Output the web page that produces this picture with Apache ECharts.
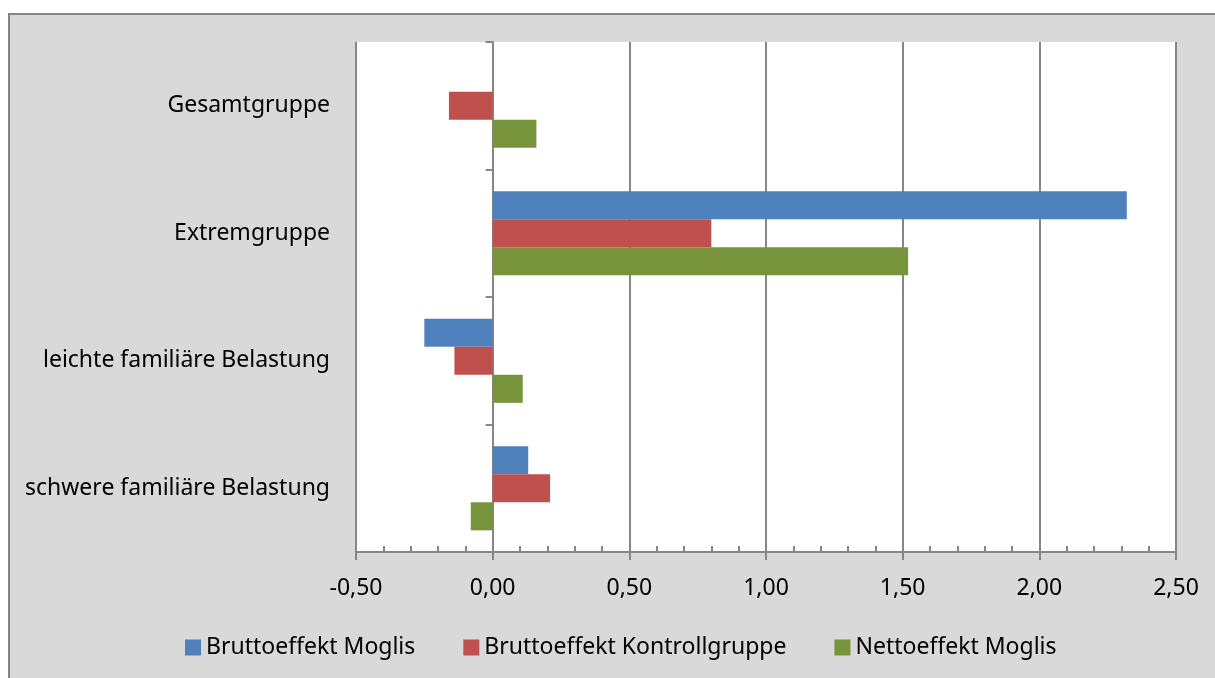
<!DOCTYPE html>
<html>
<head>
<meta charset="utf-8">
<script src="https://cdn.jsdelivr.net/npm/echarts@6/dist/echarts.min.js"></script>
<style>
html,body{margin:0;padding:0;background:#fff;}
#chart{width:1215px;height:678px;}
</style>
</head>
<body>
<div id="chart"></div>
<script>
const categories = ['Gesamtgruppe', 'Extremgruppe', 'leichte familiäre Belastung', 'schwere familiäre Belastung'];
const seriesNames = ['Bruttoeffekt Moglis', 'Bruttoeffekt Kontrollgruppe', 'Nettoeffekt Moglis'];
const bruttoMoglis = [0, 2.32, -0.25, 0.13];
const bruttoKontroll = [-0.16, 0.80, -0.14, 0.21];
const nettoMoglis = [0.16, 1.52, 0.11, -0.08];
const xMin = -0.5, xMax = 2.5, xStep = 0.5, xMinorStep = 0.1;

const colors = ['#4f81bd', '#c0504d', '#77933c'];
const font = '"Noto Sans", "Open Sans", sans-serif';
const chart = echarts.init(document.getElementById('chart'));
const fmt = v => v.toFixed(2).replace('.', ',');

chart.setOption({
  animation: false,
  textStyle: {fontFamily: font},
  graphic: [{
    type: 'rect', z: -10, silent: true,
    shape: {x: 9, y: 14, width: 1300, height: 800},
    style: {fill: '#d9d9d9', stroke: '#868686', lineWidth: 2}
  }],
  grid: {left: 356, top: 42, right: 39, bottom: 126, show: true, backgroundColor: '#ffffff', borderWidth: 0, containLabel: false},
  legend: {
    data: seriesNames, left: 180, top: 631, itemWidth: 16, itemHeight: 16, itemGap: 48,
    icon: 'rect', textStyle: {fontSize: 23, color: '#000', fontFamily: font}
  },
  xAxis: [{
    type: 'value', min: xMin, max: xMax, interval: xStep, position: 'bottom',
    axisLine: {show: true, lineStyle: {color: '#868686', width: 2}},
    axisTick: {show: true, length: 8, lineStyle: {color: '#868686', width: 2}},
    axisLabel: {formatter: fmt, fontSize: 23, color: '#000', margin: 25, fontFamily: font},
    splitLine: {show: true, lineStyle: {color: '#868686', width: 2}}
  }, {
    type: 'value', min: xMin, max: xMax, interval: xMinorStep, position: 'bottom',
    axisLine: {show: false},
    axisTick: {show: true, inside: true, length: 6, lineStyle: {color: '#868686', width: 2}},
    axisLabel: {show: false},
    splitLine: {show: false}
  }],
  yAxis: [{
    type: 'category', data: categories, inverse: true, position: 'left',
    axisLine: {show: false, onZero: false},
    axisTick: {show: false},
    axisLabel: {fontSize: 23, color: '#000', margin: 26, fontFamily: font, padding: [4, 0, 0, 0]}
  }, {
    type: 'category', data: categories, inverse: true, position: 'left',
    axisLine: {show: true, onZero: true, onZeroAxisIndex: 0, lineStyle: {color: '#868686', width: 2}},
    axisTick: {show: true, length: 7, lineStyle: {color: '#868686', width: 2}},
    axisLabel: {show: false}
  }],
  series: [
    {name: seriesNames[0], type: 'bar', yAxisIndex: 0, xAxisIndex: 0, data: bruttoMoglis, itemStyle: {color: colors[0]}, barGap: '0%', barCategoryGap: '34%'},
    {name: seriesNames[1], type: 'bar', yAxisIndex: 0, xAxisIndex: 0, data: bruttoKontroll, itemStyle: {color: colors[1]}, barGap: '0%', barCategoryGap: '34%'},
    {name: seriesNames[2], type: 'bar', yAxisIndex: 0, xAxisIndex: 0, data: nettoMoglis, itemStyle: {color: colors[2]}, barGap: '0%', barCategoryGap: '34%'}
  ]
});
</script>
</body>
</html>
